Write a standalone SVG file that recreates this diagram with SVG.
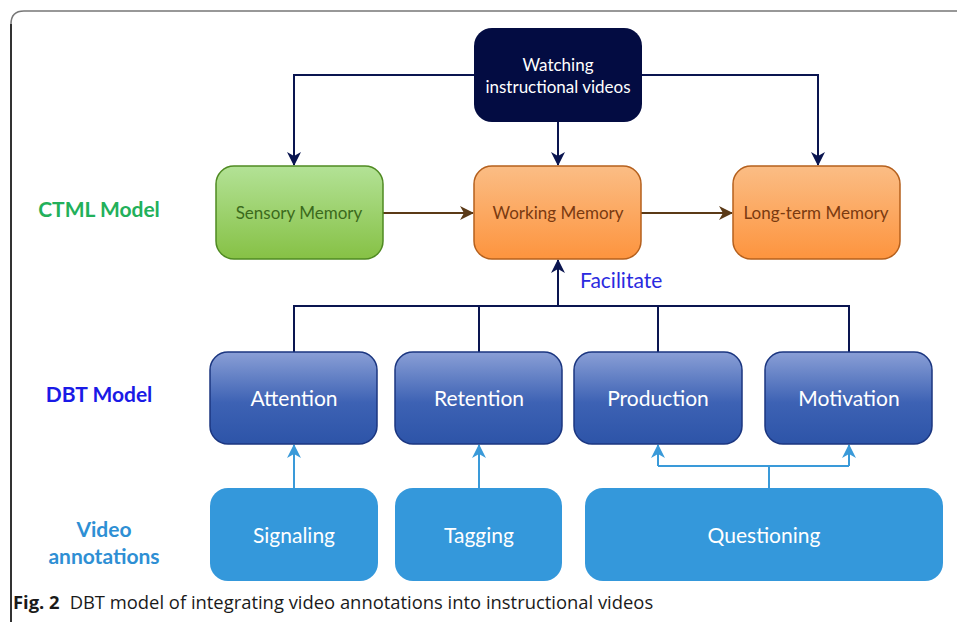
<svg xmlns="http://www.w3.org/2000/svg" width="957" height="622" viewBox="0 0 957 622">
  <defs>
    <linearGradient id="gGreen" x1="0" y1="0" x2="0" y2="1">
      <stop offset="0" stop-color="#b3e296"/>
      <stop offset="1" stop-color="#86c145"/>
    </linearGradient>
    <linearGradient id="gOrange" x1="0" y1="0" x2="0" y2="1">
      <stop offset="0" stop-color="#fbbd85"/>
      <stop offset="1" stop-color="#fd943e"/>
    </linearGradient>
    <linearGradient id="gBlue" x1="0" y1="0" x2="0" y2="1">
      <stop offset="0" stop-color="#8a9fd6"/>
      <stop offset="0.55" stop-color="#3d62b4"/>
      <stop offset="1" stop-color="#2d54a8"/>
    </linearGradient>
    <marker id="aNavy" viewBox="0 0 14 14" refX="13" refY="7" markerWidth="14" markerHeight="14" markerUnits="userSpaceOnUse" orient="auto">
      <path d="M0,0 L14,7 L0,14 L4,7 z" fill="#0a1550"/>
    </marker>
    <marker id="aBrown" viewBox="0 0 14 14" refX="13" refY="7" markerWidth="14" markerHeight="14" markerUnits="userSpaceOnUse" orient="auto">
      <path d="M0,0 L14,7 L0,14 L4,7 z" fill="#5b3a17"/>
    </marker>
    <marker id="aLight" viewBox="0 0 14 14" refX="13" refY="7" markerWidth="14" markerHeight="14" markerUnits="userSpaceOnUse" orient="auto">
      <path d="M0,0 L14,7 L0,14 L4,7 z" fill="#3a9ad9"/>
    </marker>
  </defs>
  <style>
    text { font-family: Lato, "Open Sans", "Liberation Sans", sans-serif; text-anchor: middle; }
    .navy { fill: none; stroke: #0a1550; stroke-width: 2; }
    .brown { fill: none; stroke: #5b3a17; stroke-width: 2; }
    .light { fill: none; stroke: #3a9ad9; stroke-width: 2; }
    .green { fill: url(#gGreen); stroke: #4f8a22; stroke-width: 1.5; }
    .orange { fill: url(#gOrange); stroke: #b5601d; stroke-width: 1.5; }
    .dbt { fill: url(#gBlue); stroke: #1b3680; stroke-width: 1.5; }
    .anno { fill: #3498db; }
    .t15 { font-size: 17px; }
    .t20 { font-size: 21px; fill: #ffffff; }
    .lbl { font-size: 21px; font-weight: bold; }
    .cap { font-family: "Open Sans", "Noto Sans", sans-serif; font-size: 18.4px; fill: #1a1a1a; text-anchor: start; }
  </style>

  <rect width="957" height="622" fill="#ffffff"/>

  <!-- figure frame -->
  <path d="M11,622 L11,24 Q11,11 24,11 L957,11" fill="none" stroke="#777777" stroke-width="1.5"/>
  <path d="M11,622 L11,24" fill="none" stroke="#111111" stroke-width="1.5"/>

  <!-- row labels -->
  <text x="99" y="217" class="lbl" fill="#22b05a">CTML Model</text>
  <text x="99" y="402" class="lbl" fill="#1a1ae6">DBT Model</text>
  <text x="104" y="537" class="lbl" fill="#2e8fd4">Video</text>
  <text x="104" y="564" class="lbl" fill="#2e8fd4">annotations</text>

  <!-- connectors -->
  <g id="connectors">
    <path class="navy" d="M474,75 L294,75 L294,165" marker-end="url(#aNavy)"/>
    <path class="navy" d="M642,75 L818,75 L818,165" marker-end="url(#aNavy)"/>
    <path class="navy" d="M558,122 L558,165" marker-end="url(#aNavy)"/>
    <path class="brown" d="M383,213 L473,213" marker-end="url(#aBrown)"/>
    <path class="brown" d="M641,213 L732,213" marker-end="url(#aBrown)"/>
    <path class="navy" d="M294,352 L294,306 L849,306 L849,352"/>
    <path class="navy" d="M479,306 L479,352"/>
    <path class="navy" d="M658,306 L658,352"/>
    <path class="navy" d="M558,306 L558,260" marker-end="url(#aNavy)"/>
    <path class="light" d="M294,488 L294,445" marker-end="url(#aLight)"/>
    <path class="light" d="M479,488 L479,445" marker-end="url(#aLight)"/>
    <path class="light" d="M769,488 L769,466"/>
    <path class="light" d="M658,466 L849,466"/>
    <path class="light" d="M658,466 L658,445" marker-end="url(#aLight)"/>
    <path class="light" d="M849,466 L849,445" marker-end="url(#aLight)"/>
  </g>
  <text x="580" y="288" font-size="21" fill="#2a2ae0" text-anchor="start" style="text-anchor:start">Facilitate</text>

  <!-- source -->
  <g id="watching">
    <rect x="474" y="28" width="168" height="94" rx="18" fill="#030c42"/>
    <text x="558" y="71" class="t15" fill="#ffffff">Watching</text>
    <text x="558" y="93" class="t15" fill="#ffffff">instructional videos</text>
  </g>

  <!-- CTML model -->
  <g id="sensory">
    <rect x="216" y="166" width="167" height="93" rx="18" class="green"/>
    <text x="299" y="219" class="t15" fill="#3b6a1c">Sensory Memory</text>
  </g>
  <g id="working">
    <rect x="474" y="166" width="167" height="93" rx="18" class="orange"/>
    <text x="558" y="219" class="t15" fill="#7a3a10">Working Memory</text>
  </g>
  <g id="longterm">
    <rect x="733" y="166" width="167" height="93" rx="18" class="orange"/>
    <text x="816" y="219" class="t15" fill="#7a3a10">Long-term Memory</text>
  </g>

  <!-- DBT model -->
  <g id="attention">
    <rect x="210" y="352" width="167" height="92" rx="18" class="dbt"/>
    <text x="294" y="406" class="t20">Attention</text>
  </g>
  <g id="retention">
    <rect x="395" y="352" width="167" height="92" rx="18" class="dbt"/>
    <text x="479" y="406" class="t20">Retention</text>
  </g>
  <g id="production">
    <rect x="574" y="352" width="168" height="92" rx="18" class="dbt"/>
    <text x="658" y="406" class="t20">Production</text>
  </g>
  <g id="motivation">
    <rect x="765" y="352" width="167" height="92" rx="18" class="dbt"/>
    <text x="849" y="406" class="t20">Motivation</text>
  </g>

  <!-- video annotations -->
  <g id="signaling">
    <rect x="210" y="488" width="168" height="93" rx="18" class="anno"/>
    <text x="294" y="543" class="t20">Signaling</text>
  </g>
  <g id="tagging">
    <rect x="395" y="488" width="167" height="93" rx="18" class="anno"/>
    <text x="479" y="543" class="t20">Tagging</text>
  </g>
  <g id="questioning">
    <rect x="585" y="488" width="358" height="93" rx="18" class="anno"/>
    <text x="764" y="543" class="t20">Questioning</text>
  </g>

  <!-- caption -->
  <text x="13" y="609" class="cap"><tspan font-weight="bold">Fig. 2</tspan><tspan dx="10">DBT model of integrating video annotations into instructional videos</tspan></text>
</svg>
